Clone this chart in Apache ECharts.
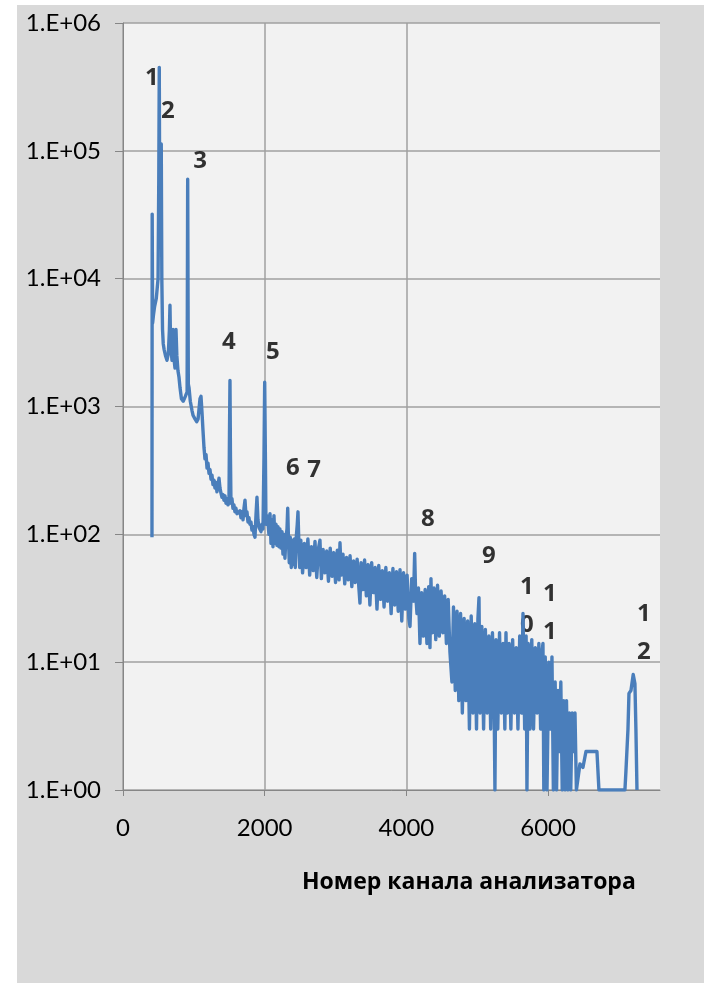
<!DOCTYPE html>
<html lang="ru">
<head>
<meta charset="UTF-8">
<title>Спектр анализатора</title>
<script src="https://cdn.jsdelivr.net/npm/echarts@6.0.0/dist/echarts.min.js"></script>
<style>
    html, body { margin: 0; padding: 0; background: #ffffff; }
    #chart {
        position: absolute;
        left: 17px;
        top: 5px;
        width: 687px;
        height: 978px;
        background: #d9d9d9;
    }
</style>
</head>
<body>
<div id="chart"></div>
<script>
    // channel numbers and counts
    const channels = [
        409, 412, 418, 430, 445, 470, 495, 505, 512, 518,
        524, 532, 540, 548, 558, 568, 580, 600, 621, 640,
        655, 663, 672, 692, 706, 718, 734, 748, 760, 776,
        790, 805, 825, 850, 880, 905, 913, 922, 932, 950,
        974, 990, 1016, 1040, 1060, 1087, 1101, 1115, 1129, 1143,
        1157, 1172, 1186, 1200, 1214, 1228, 1242, 1256, 1270, 1284,
        1298, 1312, 1326, 1340, 1355, 1369, 1383, 1397, 1411, 1425,
        1440, 1454, 1468, 1482, 1496, 1503, 1510, 1517, 1524, 1538,
        1552, 1566, 1580, 1594, 1609, 1623, 1637, 1651, 1665, 1680,
        1694, 1708, 1722, 1736, 1750, 1764, 1778, 1792, 1806, 1820,
        1835, 1849, 1863, 1877, 1891, 1905, 1920, 1934, 1948, 1962,
        1976, 1990, 2000, 2010, 2018, 2032, 2046, 2060, 2075, 2089,
        2103, 2117, 2131, 2145, 2159, 2173, 2187, 2201, 2215, 2230,
        2244, 2258, 2272, 2286, 2300, 2315, 2325, 2335, 2347, 2361,
        2375, 2390, 2404, 2418, 2432, 2446, 2460, 2470, 2480, 2494,
        2510, 2535, 2560, 2585, 2610, 2635, 2660, 2685, 2710, 2735,
        2760, 2780, 2800, 2825, 2850, 2875, 2900, 2925, 2950, 2975,
        3000, 3025, 3050, 3063, 3080, 3105, 3130, 3155, 3180, 3205,
        3230, 3255, 3280, 3305, 3330, 3345, 3360, 3385, 3410, 3435,
        3460, 3485, 3510, 3535, 3560, 3585, 3610, 3635, 3660, 3685,
        3710, 3735, 3760, 3785, 3810, 3835, 3860, 3885, 3910, 3935,
        3960, 3985, 4010, 4035, 4051, 4075, 4100, 4117, 4130, 4150,
        4170, 4192, 4215, 4240, 4265, 4290, 4315, 4333, 4347, 4365,
        4390, 4415, 4440, 4465, 4490, 4515, 4540, 4565, 4590, 4615,
        4643, 4665, 4690, 4715, 4740, 4765, 4790, 4815, 4840, 4865,
        4890, 4915, 4940, 4965, 4990, 5010, 5025, 5040, 5065, 5090,
        5115, 5140, 5165, 5190, 5215, 5240, 5250, 5265, 5290, 5315,
        5340, 5365, 5390, 5406, 5425, 5450, 5475, 5500, 5525, 5550,
        5575, 5600, 5625, 5646, 5670, 5690, 5702, 5720, 5745, 5770,
        5795, 5820, 5845, 5870, 5895, 5915, 5928, 5940, 5960, 5985,
        6010, 6035, 6055, 6075, 6100, 6120, 6140, 6160, 6180, 6200,
        6220, 6240, 6260, 6280, 6300, 6320, 6340, 6360, 6380, 6400,
        6422, 6450, 6492, 6535, 6690, 6718, 7085, 7099, 7128, 7142,
        7170, 7202, 7226, 7240, 7255
    ];
    const counts = [
        95, 32000, 4500, 5200, 6000, 7000, 10000, 60000, 450000, 40000,
        60000, 30000, 113000, 10000, 4000, 3100, 2800, 2500, 2300, 2600,
        4000, 6200, 3000, 2300, 4000, 2400, 2000, 4000, 2500, 1900,
        1700, 1400, 1150, 1100, 1200, 1300, 60000, 1500, 1400, 1100,
        930, 850, 800, 760, 800, 1150, 1200, 900, 650, 480,
        390, 420, 330, 360, 300, 320, 270, 290, 245, 265,
        230, 255, 215, 240, 275, 230, 210, 195, 205, 185,
        200, 175, 190, 170, 180, 600, 1600, 400, 175, 190,
        160, 170, 150, 160, 145, 150, 140, 153, 135, 150,
        130, 160, 185, 140, 150, 125, 135, 120, 125, 108,
        115, 100, 95, 140, 195, 130, 113, 115, 105, 120,
        110, 400, 1550, 400, 120, 140, 125, 100, 145, 85,
        130, 80, 140, 85, 120, 82, 115, 80, 110, 78,
        105, 70, 100, 65, 95, 110, 160, 95, 60, 95,
        55, 90, 58, 92, 55, 95, 120, 150, 95, 55,
        90, 50, 85, 55, 92, 48, 80, 52, 88, 46,
        78, 90, 45, 76, 50, 74, 43, 78, 47, 72,
        42, 75, 44, 86, 48, 70, 41, 66, 44, 68,
        39, 62, 42, 64, 38, 29, 60, 37, 63, 33,
        58, 28, 60, 35, 55, 26, 57, 31, 52, 27,
        55, 30, 50, 24, 54, 28, 51, 25, 53, 21,
        50, 26, 48, 22, 19, 45, 30, 71, 35, 24,
        38, 14, 35, 16, 37, 14, 39, 13, 45, 17,
        38, 15, 40, 16, 36, 17, 33, 14, 31, 12,
        7, 27, 6, 25, 5, 24, 4, 22, 5, 21,
        3, 23, 4, 20, 3, 22, 32, 4, 19, 3,
        18, 4, 16, 3, 17, 4, 1, 15, 3, 17,
        4, 14, 3, 17, 4, 14, 3, 15, 4, 13,
        3, 16, 4, 24, 3, 16, 1, 14, 3, 15,
        3, 13, 4, 14, 3, 12, 14, 1, 11, 1,
        10, 3, 11, 1, 7, 1, 6, 2, 7, 1,
        5, 1, 5, 1, 4, 1, 4, 2, 4, 1,
        1, 1.6, 1.5, 2, 2, 1, 1, 1.4, 3, 5.7,
        6, 8, 6.8, 3, 1
    ];

    // peak numbers written over the spectrum
    const peakLabels = ['1', '2', '3', '4', '5', '6', '7', '8', '9', '1\n0', '1\n1', '1\n2'];
    const labelChannels = [409, 635, 1087, 1496, 2117, 2399, 2696, 4305, 5166, 5702, 6027, 7353];
    const labelCounts = [370000, 205000, 83000, 3160, 2650, 328, 316, 131, 67, 27.4, 24, 16.9];

    const xTicks = [0, 2000, 4000, 6000];
    const yTickLabels = ['1.E+00', '1.E+01', '1.E+02', '1.E+03', '1.E+04', '1.E+05', '1.E+06'];

    const font = 'Lato, "Open Sans", "DejaVu Sans", sans-serif';
    const chart = echarts.init(document.getElementById('chart'));

    const option = {
        animation: false,
        title: {
            text: 'Номер канала анализатора',
            left: 280,
            top: 861,
            textStyle: { fontFamily: '"Open Sans", Lato, sans-serif', fontSize: 23, fontWeight: 'bold', color: '#000' }
        },
        grid: {
            left: 106, top: 18, right: 44, bottom: 193,
            show: true, backgroundColor: '#f2f2f2', borderWidth: 0
        },
        xAxis: {
            type: 'value',
            min: 0,
            max: 7580,
            interval: 2000,
            axisLine: { show: true, onZero: false, lineStyle: { color: '#868686', width: 1 } },
            axisTick: { show: true, length: 6, customValues: xTicks, lineStyle: { color: '#868686' } },
            axisLabel: {
                customValues: xTicks,
                formatter: v => String(v),
                margin: 26, fontFamily: font, fontSize: 24, color: '#000'
            },
            splitLine: { show: true, showMaxLine: false, lineStyle: { color: '#a0a0a0', width: 1.5 } }
        },
        yAxis: {
            type: 'log',
            logBase: 10,
            min: 1,
            max: 1000000,
            axisLine: { show: true, lineStyle: { color: '#868686', width: 1 } },
            axisTick: { show: true, length: 8, lineStyle: { color: '#868686' } },
            axisLabel: {
                margin: 22, fontFamily: font, fontSize: 24, color: '#000',
                formatter: v => yTickLabels[Math.round(Math.log10(v))]
            },
            minorTick: { show: false },
            splitLine: { show: true, lineStyle: { color: '#a0a0a0', width: 1.5 } }
        },
        series: [
            {
                type: 'line',
                data: channels.map((c, i) => [c, counts[i]]),
                showSymbol: false,
                lineStyle: { color: '#4a7ebb', width: 3.4, join: 'round' },
                itemStyle: { color: '#4a7ebb' }
            },
            {
                type: 'scatter',
                symbolSize: 1,
                itemStyle: { color: 'rgba(0,0,0,0)' },
                data: peakLabels.map((t, i) => ({ name: t, value: [labelChannels[i], labelCounts[i]] })),
                label: {
                    show: true,
                    position: 'inside',
                    formatter: p => p.name,
                    fontFamily: '"Open Sans", Lato, sans-serif',
                    fontSize: 24,
                    fontWeight: 'bold',
                    lineHeight: 38,
                    color: '#000',
                    textBorderWidth: 0
                }
            }
        ]
    };
    chart.setOption(option);
</script>
</body>
</html>
